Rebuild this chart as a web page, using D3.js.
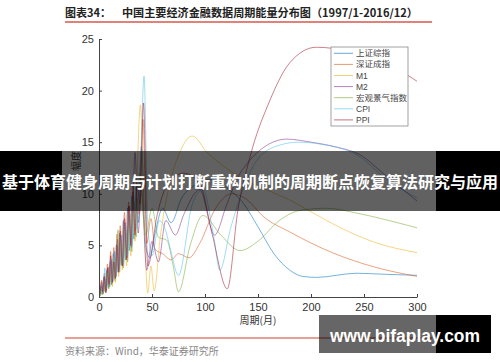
<!DOCTYPE html>
<html lang="zh">
<head>
    <meta charset="UTF-8">
    <title>中国主要经济金融数据周期能量分布图</title>
    <script src="https://d3js.org/d3.v7.min.js"></script>
    <style>
        body {
            margin: 0;
            padding: 0;
            background-color: #fff;
        }
        svg {
            display: block;
        }
    </style>
</head>
<body>
    <svg id="chart" width="500" height="362"></svg>

    <script>
        // series names as in the legend
        const seriesNames = ["上证综指", "深证成指", "M1", "M2", "宏观景气指数", "CPI", "PPI"];
        const seriesColors = ["#0072BD", "#D95319", "#EDB120", "#7E2F8E", "#77AC30", "#4DBEEE", "#A2142F"];

        // [period (months), amplitude]
        const shIndex = [[1,0.1],[2,1.1],[3,0.3],[4.5,1.9],[6,0.5],[7.5,2.6],[9,0.9],[10.5,3.4],[12,1.2],[13.5,4.2],[15,1.8],[16.5,5.1],[18,2.4],[19.5,6.2],[21,3.1],[23,7.4],[25,3.6],[27,8.6],[29,4.5],[31,9.8],[33,5.6],[35,10.6],[37,7.2],[40,14.6],[44,5],[48,3.8],[53,6.2],[60,8.6],[68,7.2],[78,9.6],[90,10.8],[105,11.4],[120,10.6],[136,9.1],[150,6.8],[165,4.2],[180,2.6],[192,2.0],[205,1.9],[243,2.3],[270,2.2],[300,2.1]];
        const szIndex = [[1,0.2],[2.5,1.4],[3.5,0.4],[5,2.3],[6.5,0.7],[8,3.2],[9.5,1.3],[11,4.4],[12.5,1.6],[14,4.8],[15.5,2.2],[17,6.1],[18.5,2.8],[20,6.9],[22,3.4],[24,8.2],[26,4.4],[28,9.2],[30,5.2],[32,10.8],[34,6.4],[36,9.6],[38,8],[41.5,17.2],[45,5.2],[49,7.6],[53,4.6],[60,4.2],[68,3.6],[75,4.2],[85,3.8],[95,5.2],[110,8.6],[125,10],[140,9.4],[155,7.8],[180,6.3],[220,4.3],[260,2.9],[300,2.0]];
        const m1 = [[1,0.1],[2,0.9],[3.5,0.2],[5,1.6],[6.5,0.4],[8,2.2],[9.5,0.8],[11,3.1],[12.5,1],[14,3.9],[15.5,1.4],[17,4.6],[18.5,2],[20,5.8],[22,2.6],[24,7.1],[26,3],[28,8.4],[30,4],[32,9.6],[34,5.4],[36,11.8],[39,18.6],[43,6],[46,0.4],[49,3],[52,0.6],[58,6],[65,10.2],[77,14.2],[88,15.6],[102,14],[120,12.5],[140,11.2],[160,10.3],[180,9.4],[201,8.2],[230,6.6],[260,5.3],[300,4.3]];
        const m2 = [[1,0.2],[2.5,1],[4,0.3],[5.5,1.8],[7,0.6],[8.5,2.9],[10,1],[11.5,3.6],[13,1.5],[14.5,4.4],[16,2],[17.5,5.6],[19,2.6],[20.5,6],[22.5,3],[24.5,7.2],[26.5,3.8],[28.5,8.8],[30.5,4.8],[34,14],[37,6.2],[40,10.5],[45,2.6],[50,5.4],[56,3.4],[63,7.4],[72,6],[80,8],[95,10.4],[109,6],[120,8.8],[130,11.4],[142,13.2],[160,14.8],[177,15.3],[200,15],[225,14.5],[246,13.8],[270,11.8],[300,9.3]];
        const macro = [[1,0.1],[2,0.8],[3,0.2],[4.5,1.5],[6,0.5],[7.5,2.4],[9,0.8],[10.5,3],[12,1.2],[13.5,3.6],[15,1.6],[16.5,4.8],[18,6.5],[19.5,2.4],[21,5.4],[23,2.8],[25,6.6],[27,3.4],[29,8],[31,4.4],[33,9.2],[35,5.8],[38,12],[44,6],[50,8.6],[56,5.8],[64,5.5],[70,3],[75,0.5],[86,5],[98,7.9],[115,6],[133,4.5],[150,5.4],[170,7.4],[190,8.4],[215,8.6],[240,8.2],[270,7.5],[300,6.7]];
        const cpi = [[1,0.2],[2,0.4],[3,1.3],[4,0.4],[5.5,2.8],[7,0.8],[8.5,2.5],[10,1],[11.5,3.7],[13,1.5],[14.5,4.3],[16,2],[17.5,5],[19,2.6],[21,6],[23,3.2],[25,7],[27,4],[29,8.2],[31,5],[33,9.6],[35,6.6],[37,9.6],[39.5,14],[42.5,21.4],[46,7],[50,4],[57,7.4],[63,6.4],[67,4.8],[75,2.1],[88,9],[98,10.4],[108,6],[114,2.6],[124,6.6],[133,9.6],[150,13.4],[170,14.7],[188,15],[210,14.8],[246,13.6],[270,11.5],[300,9.6]];
        const ppi = [[1,0.3],[2.5,1.6],[3.5,0.5],[5,2],[6.5,0.4],[8,2.8],[9.5,1.2],[11,4],[12.5,1.4],[14,3.4],[15.5,1.8],[17,5],[18.5,2.4],[20,6.4],[22,3],[24,7.6],[26,3.6],[28,8.8],[30,5],[32,10.2],[34,6],[36,11],[38.5,9],[42,18.8],[46,3],[55,8],[65,11],[80,12],[95,11],[107,6],[121,0.8],[131,8.4],[142,13.4],[161,19],[180,22.7],[205,24.2],[220,24.1],[240,23.6],[265,22.7],[291,21.5],[300,20.9]];

        const xTicks = [0, 50, 100, 150, 200, 250, 300];
        const yTicks = [0, 5, 10, 15, 20, 25];

        const allSeries = [shIndex, szIndex, m1, m2, macro, cpi, ppi];

        const svg = d3.select("#chart");
        const cjk = "'Noto Sans CJK SC', sans-serif";
        const latin = "'Liberation Sans', Arial, sans-serif";

        const x = d3.scaleLinear().domain([0, 300]).range([99, 417]);
        const y = d3.scaleLinear().domain([0, 25]).range([297, 39]);

        svg.append("rect").attr("width", 500).attr("height", 362).attr("fill", "#fff");

        // title + red rule
        const title = svg.append("text")
            .attr("x", 65).attr("y", 17)
            .attr("font-family", cjk).attr("font-size", 11).attr("font-weight", "bold")
            .attr("fill", "#222");
        title.append("tspan").text("图表34：");
        title.append("tspan").attr("x", 122)
            .attr("textLength", 296).attr("lengthAdjust", "spacingAndGlyphs")
            .text("中国主要经济金融数据周期能量分布图（1997/1-2016/12）");
        svg.append("line").attr("x1", 65).attr("x2", 432).attr("y1", 22).attr("y2", 22)
            .attr("stroke", "#d9574a").attr("stroke-width", 1.6);

        // curves
        const line = d3.line()
            .x(d => x(d[0]))
            .y(d => y(d[1]))
            .curve(d3.curveMonotoneX);

        svg.append("g")
            .selectAll("path")
            .data(allSeries)
            .enter()
            .append("path")
            .attr("d", line)
            .attr("fill", "none")
            .attr("stroke", (d, i) => seriesColors[i])
            .attr("stroke-width", 0.9)
            .attr("stroke-opacity", 0.6);

        // axes (MATLAB style, ticks inside)
        const yAxis = svg.append("g")
            .attr("transform", "translate(99,0)")
            .call(d3.axisLeft(y).tickValues(yTicks).tickSize(-3).tickSizeOuter(0).tickPadding(5));
        const xAxis = svg.append("g")
            .attr("transform", "translate(0,297)")
            .call(d3.axisBottom(x).tickValues(xTicks).tickSize(-3).tickSizeOuter(0).tickPadding(6));
        [xAxis, yAxis].forEach(g => {
            g.select(".domain").attr("stroke", "#444");
            g.selectAll(".tick line").attr("stroke", "#444");
            g.selectAll(".tick text")
                .attr("font-family", latin).attr("font-size", 11).attr("fill", "#333");
        });

        svg.append("text")
            .attr("x", 258).attr("y", 324)
            .attr("text-anchor", "middle")
            .attr("font-family", cjk).attr("font-size", 10).attr("fill", "#333")
            .text("周期(月)");
        svg.append("text")
            .attr("transform", "translate(80,161) rotate(-90)")
            .attr("text-anchor", "middle")
            .attr("font-family", cjk).attr("font-size", 10).attr("fill", "#333")
            .text("幅度");

        // legend
        const legend = svg.append("g");
        legend.append("rect")
            .attr("x", 331).attr("y", 47).attr("width", 77).attr("height", 79)
            .attr("fill", "#fff").attr("stroke", "#8a8a8a").attr("stroke-width", 0.8);
        const rows = legend.selectAll("g.row")
            .data(seriesNames)
            .enter()
            .append("g")
            .attr("class", "row")
            .attr("transform", (d, i) => `translate(0,${53.3 + i * 11.1})`);
        rows.append("line")
            .attr("x1", 334).attr("x2", 353)
            .attr("stroke", (d, i) => seriesColors[i])
            .attr("stroke-width", 1).attr("stroke-opacity", 0.6);
        rows.append("text")
            .attr("x", 356).attr("y", 3)
            .attr("font-family", (d) => /^[A-Z0-9]+$/.test(d) ? latin : cjk)
            .attr("font-size", 8.5).attr("fill", "#444")
            .text(d => d);

        // footer
        svg.append("line").attr("x1", 65).attr("x2", 432).attr("y1", 338).attr("y2", 338)
            .attr("stroke", "#e08070").attr("stroke-width", 1.4);
        svg.append("text")
            .attr("x", 65).attr("y", 354.5)
            .attr("font-family", cjk).attr("font-size", 10).attr("fill", "#888")
            .text("资料来源：Wind，华泰证券研究所");

        // overlay banner
        svg.append("rect").attr("x", 0).attr("y", 151).attr("width", 62).attr("height", 60).attr("fill", "#000");
        svg.append("rect").attr("x", 62).attr("y", 151).attr("width", 374).attr("height", 60).attr("fill", "rgba(0,0,0,0.62)");
        svg.append("rect").attr("x", 436).attr("y", 151).attr("width", 64).attr("height", 60).attr("fill", "#000");
        svg.append("text")
            .attr("x", 250).attr("y", 188)
            .attr("text-anchor", "middle")
            .attr("font-family", cjk).attr("font-size", 16).attr("font-weight", "bold")
            .attr("fill", "#fff")
            .attr("textLength", 496).attr("lengthAdjust", "spacingAndGlyphs")
            .text("基于体育健身周期与计划打断重构机制的周期断点恢复算法研究与应用");

        // watermark
        svg.append("rect").attr("x", 319).attr("y", 315).attr("width", 117).attr("height", 38).attr("fill", "rgba(0,0,0,0.6)");
        svg.append("rect").attr("x", 436).attr("y", 315).attr("width", 55).attr("height", 38).attr("fill", "#000");
        svg.append("text")
            .attr("x", 330).attr("y", 341.5)
            .attr("font-family", latin).attr("font-size", 17.5).attr("font-weight", "bold")
            .attr("fill", "#fff")
            .attr("textLength", 150).attr("lengthAdjust", "spacingAndGlyphs")
            .text("www.bifaplay.com");
    </script>
</body>
</html>
